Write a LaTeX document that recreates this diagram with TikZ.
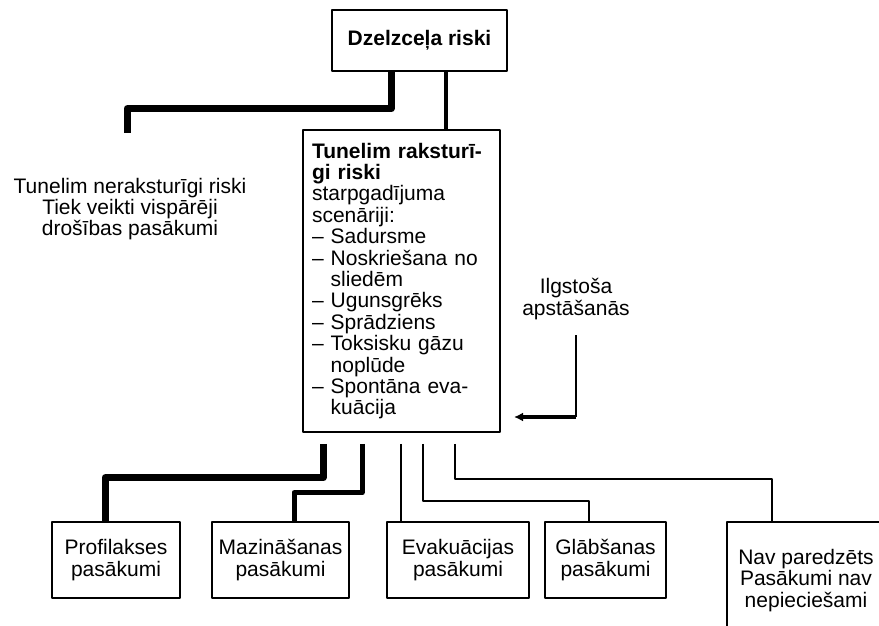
\documentclass[tikz,border=0pt]{standalone}
\usepackage{fontspec}
\setmainfont{Liberation Sans}
\usetikzlibrary{arrows.meta}

\begin{document}
\begin{tikzpicture}[x=1pt, y=-1pt, font=\fontsize{21}{21.4}\selectfont, line join=round, >={Latex[length=9pt,width=9pt]},
	kaste/.style={draw, line width=1.5pt, align=center, inner sep=0pt},
	biezs/.style={line width=7pt},
	videjs/.style={line width=5pt},
	plans/.style={line width=1.8pt}]
	\clip (0,0) rectangle (879,626);
	\node[kaste, minimum width=175pt, minimum height=61pt, font=\fontsize{21}{21.4}\selectfont\bfseries] (dz) at (419.5,40.5) {Dzelzceļa riski};
	\node[kaste, align=left, text width=179pt, inner xsep=9pt, minimum height=302pt] (tun) at (401.5,281) {\textbf{Tunelim raksturī-}\\\textbf{gi riski}\\starpgadījuma\\scenāriji:\\– Sadursme\\– Noskriešana no\\\phantom{– }sliedēm\\– Ugunsgrēks\\– Sprādziens\\– Toksisku gāzu\\\phantom{– }noplūde\\– Spontāna eva-\\\phantom{– }kuācija};
	\node[align=center] (nerakst) at (130,209) {Tunelim neraksturīgi riski\\Tiek veikti vispārēji\\drošības pasākumi};
	\node[align=center] (ilg) at (576,299) {Ilgstoša\\apstāšanās};
	\foreach \nm/\xc/\w/\txt in {prof/116/128/{Profilakses\\pasākumi}, maz/280.5/137/{Mazināšanas\\pasākumi}, evak/458/142/{Evakuācijas\\pasākumi}, glab/605.5/121/{Glābšanas\\pasākumi}}
		\node[kaste, minimum width=\w pt, minimum height=76pt] (\nm) at (\xc,560) {\txt};
	\node[kaste, minimum width=158pt, minimum height=117pt] (nav) at (806,580.5) {Nav paredzēts\\Pasākumi nav\\nepieciešami};
	% augsha
	\coordinate (kreisais) at (127,133);
	\draw[biezs] ([xshift=-28.5pt]dz.south) -- ++(0,37) -| (kreisais);
	\draw[line width=4pt] ([xshift=26.5pt]dz.south) -- ([xshift=44.5pt]tun.north);
	% apakshā
	\draw[biezs] ([xshift=-78.5pt,yshift=-11pt]tun.south) -- ++(0,34) -| ([xshift=-11pt]prof.north);
	\draw[videjs] ([xshift=-39.5pt,yshift=-11pt]tun.south) -- ++(0,49) -| ([xshift=13.5pt]maz.north);
	\draw[plans] ([xshift=-0.5pt,yshift=-11pt]tun.south) -- ([xshift=-57pt]evak.north);
	\draw[plans] ([xshift=21.5pt,yshift=-11pt]tun.south) -- ++(0,57) -| ([xshift=-16.5pt]glab.north);
	\draw[plans] ([xshift=53.5pt,yshift=-11pt]tun.south) -- ++(0,35) -| ([xshift=-34pt]nav.north);
	% bulta
	\coordinate (loks) at (576,417);
	\coordinate (gals) at (514,417);
	\draw[plans] ([yshift=-12pt]ilg.south) -- (loks);
	\draw[line width=4pt, ->] (loks) -- (gals);
\end{tikzpicture}
\end{document}
